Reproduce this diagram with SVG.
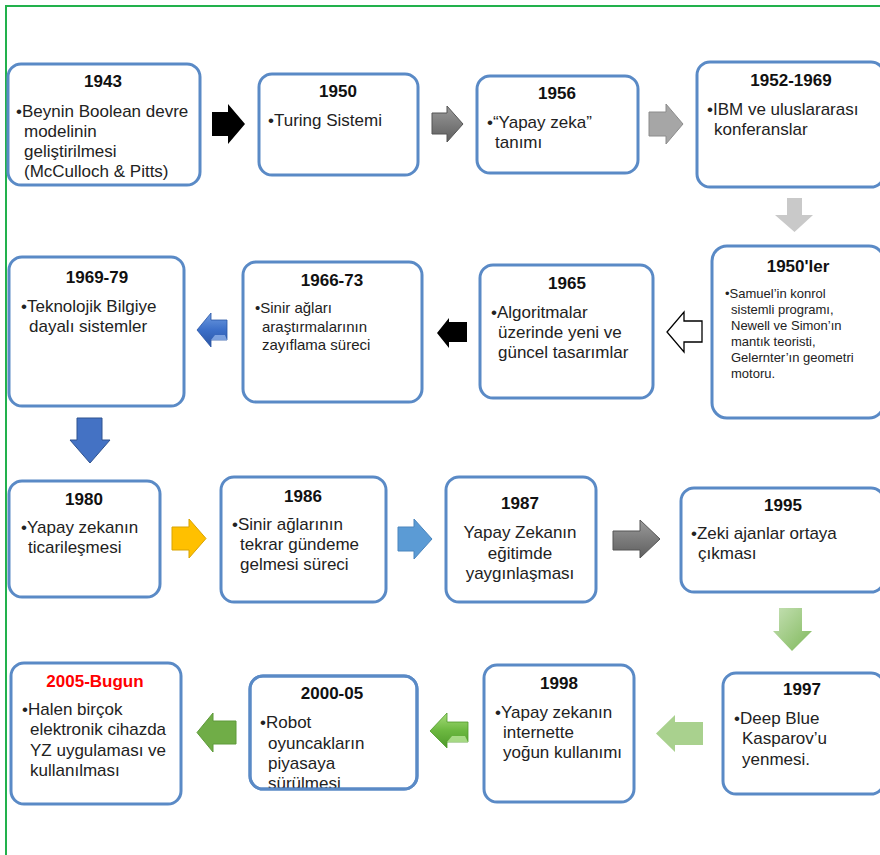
<svg xmlns="http://www.w3.org/2000/svg" width="880" height="855" viewBox="0 0 880 855">
<style>
.box{fill:#fff;stroke:#5a8ac6;stroke-width:3}
.bx{fill:none;stroke:#5a8ac6;stroke-width:3}
.t{font-family:"Liberation Sans",Arial,sans-serif;font-size:17px;fill:#222}
.s{font-size:15px}
.xs{font-size:13px}
.h{font-family:"Liberation Sans",Arial,sans-serif;font-size:17px;font-weight:bold;fill:#111;text-anchor:middle}
.c{text-anchor:middle}
</style>
<defs>
<linearGradient id="gDark" x1="0" y1="0" x2="0" y2="1"><stop offset="0" stop-color="#9a9a9a"/><stop offset="1" stop-color="#5e5e5e"/></linearGradient>
<linearGradient id="gGreen" x1="0" y1="0" x2="1" y2="1"><stop offset="0" stop-color="#c5e0b4"/><stop offset="1" stop-color="#7fb85a"/></linearGradient>
<linearGradient id="gBlue3" x1="0" y1="0" x2="0" y2="1"><stop offset="0" stop-color="#6f9be0"/><stop offset="0.5" stop-color="#3c6fc8"/><stop offset="1" stop-color="#2a55a5"/></linearGradient>
<linearGradient id="gGreen3" x1="0" y1="0" x2="0" y2="1"><stop offset="0" stop-color="#a6dc7a"/><stop offset="0.5" stop-color="#6cb840"/><stop offset="1" stop-color="#4e9a2a"/></linearGradient>
</defs>
<rect width="880" height="855" fill="#fff"/>
<path d="M6,855 V6 H880" fill="none" stroke="#22b14c" stroke-width="2"/>

<g id="connectors">
<path d="M212,112 H228 V104 L245,124 L228,144 V136 H212 Z" fill="#000"/>
<path d="M432,113 H447 V106 L463,124 L447,142 V134 H432 Z" fill="url(#gDark)" stroke="#555" stroke-width="1"/>
<path d="M649,112 H666 V104 L683,124 L666,144 V136 H649 Z" fill="#a6a6a6" stroke="#8c8c8c" stroke-width="1"/>
<path d="M787,198 H802 V215 H813 L794.5,232 L775,215 H787 Z" fill="#c9c9c9"/>
<path d="M702,321 H684 V312 L667,332 L684,352 V342 H702 Z" fill="#fff" stroke="#000" stroke-width="1.3"/>
<path d="M467,322 H449 V318 L437,333 L449,348 V342 H467 Z" fill="#000"/>
<path d="M227,320 H211 V313 L197,330 L211,347 V340 H227 Z" fill="url(#gBlue3)" stroke="#2a55a5" stroke-width="0.8"/>
<path d="M211,340 L215,335 H225 L227,340 Z" fill="#9bbcef" opacity="0.7"/>
<path d="M77,418 H102 V440 H110 L90,463 L70,440 H77 Z" fill="#4472c4" stroke="#2f528f" stroke-width="1"/>
<path d="M172,527 H189 V519 L206,538.5 L189,558 V550 H172 Z" fill="#ffc000" stroke="#d9a300" stroke-width="1"/>
<path d="M398,527 H414 V519 L432,539 L414,559 V551 H398 Z" fill="#5b9bd5" stroke="#4a85bd" stroke-width="1"/>
<path d="M613,531 H640 V520 L660,539 L640,558 V550 H613 Z" fill="url(#gDark)" stroke="#555" stroke-width="1"/>
<path d="M779,608 H802 V631 H812 L792,651 L773,631 H779 Z" fill="url(#gGreen)"/>
<path d="M703,722 H675 V715 L656,733.5 L675,752 V745 H703 Z" fill="#a9d18e"/>
<path d="M468,722 H447 V713 L430,731 L447,748 V742 H468 Z" fill="url(#gGreen3)" stroke="#4e9a2a" stroke-width="0.8"/>
<path d="M447,742 L452,736 H465 L468,742 Z" fill="#c6eea6" opacity="0.7"/>
<path d="M236,721 H213 V713 L197,732.5 L213,752 V744 H236 Z" fill="#70ad47" stroke="#5e9a3a" stroke-width="1"/>
</g>

<g id="n1943">
<rect class="box" x="8" y="64" width="192" height="121" rx="13"/>
<text class="h" x="103" y="87">1943</text>
<text class="t"><tspan x="16" y="117">•Beynin Boolean devre</tspan><tspan x="24" y="137">modelinin</tspan><tspan x="24" y="157">geliştirilmesi</tspan><tspan x="24" y="177">(McCulloch &amp; Pitts)</tspan></text>
</g>
<g id="n1950">
<rect class="box" x="259" y="74" width="159" height="101" rx="13"/>
<text class="h" x="338" y="97">1950</text>
<text class="t"><tspan x="268" y="126">•Turing Sistemi</tspan></text>
</g>
<g id="n1956">
<rect class="box" x="477" y="76" width="161" height="97" rx="13"/>
<text class="h" x="557" y="99">1956</text>
<text class="t"><tspan x="487" y="128">•“Yapay zeka”</tspan><tspan x="495" y="148">tanımı</tspan></text>
</g>
<g id="n1952">
<rect class="box" x="697" y="62" width="187" height="125" rx="13"/>
<text class="h" x="791" y="86">1952-1969</text>
<text class="t"><tspan x="707" y="115">•IBM ve uluslararası</tspan><tspan x="714" y="135">konferanslar</tspan></text>
</g>
<g id="n1950ler">
<rect class="box" x="712" y="246" width="172" height="172" rx="15"/>
<text class="h" x="798" y="272">1950'ler</text>
<text class="t xs"><tspan x="725" y="298">•Samuel’in konrol</tspan><tspan x="731" y="314">sistemli programı,</tspan><tspan x="731" y="330">Newell ve Simon’ın</tspan><tspan x="731" y="346">mantık teoristi,</tspan><tspan x="731" y="362">Gelernter’ın geometri</tspan><tspan x="731" y="378">motoru.</tspan></text>
</g>
<g id="n1965">
<rect class="box" x="480" y="265" width="173" height="133" rx="13"/>
<text class="h" x="567" y="289">1965</text>
<text class="t"><tspan x="491" y="318">•Algoritmalar</tspan><tspan x="498" y="338">üzerinde yeni ve</tspan><tspan x="498" y="358">güncel tasarımlar</tspan></text>
</g>
<g id="n1966">
<rect class="box" x="243" y="262" width="179" height="140" rx="13"/>
<text class="h" x="332" y="286">1966-73</text>
<text class="t s"><tspan x="255" y="313">•Sinir ağları</tspan><tspan x="262" y="332">araştırmalarının</tspan><tspan x="262" y="350">zayıflama süreci</tspan></text>
</g>
<g id="n1969">
<rect class="box" x="9" y="257" width="175" height="149" rx="13"/>
<text class="h" x="97" y="283">1969-79</text>
<text class="t"><tspan x="21" y="312">•Teknolojik Bilgiye</tspan><tspan x="29" y="332">dayalı sistemler</tspan></text>
</g>
<g id="n1980">
<rect class="box" x="9" y="481" width="151" height="116" rx="13"/>
<text class="h" x="84" y="505">1980</text>
<text class="t"><tspan x="21" y="533">•Yapay zekanın</tspan><tspan x="28" y="553">ticarileşmesi</tspan></text>
</g>
<g id="n1986">
<rect class="box" x="221" y="477" width="165" height="125" rx="13"/>
<text class="h" x="303" y="502">1986</text>
<text class="t"><tspan x="232" y="530">•Sinir ağlarının</tspan><tspan x="240" y="550">tekrar gündeme</tspan><tspan x="240" y="570">gelmesi süreci</tspan></text>
</g>
<g id="n1987">
<rect class="box" x="446" y="477" width="150" height="125" rx="13"/>
<text class="h" x="520" y="509">1987</text>
<text class="t c"><tspan x="520" y="538">Yapay Zekanın</tspan><tspan x="520" y="559">eğitimde</tspan><tspan x="520" y="579">yaygınlaşması</tspan></text>
</g>
<g id="n1995">
<rect class="box" x="681" y="488" width="203" height="104" rx="13"/>
<text class="h" x="783" y="511">1995</text>
<text class="t"><tspan x="691" y="539">•Zeki ajanlar ortaya</tspan><tspan x="698" y="559">çıkması</tspan></text>
</g>
<g id="n1997">
<rect class="box" x="723" y="673" width="161" height="121" rx="13"/>
<text class="h" x="802" y="695">1997</text>
<text class="t"><tspan x="734" y="724">•Deep Blue</tspan><tspan x="742" y="744">Kasparov’u</tspan><tspan x="742" y="765">yenmesi.</tspan></text>
</g>
<g id="n1998">
<rect class="box" x="484" y="665" width="150" height="137" rx="13"/>
<text class="h" x="559" y="689">1998</text>
<text class="t"><tspan x="495" y="718">•Yapay zekanın</tspan><tspan x="503" y="738">internette</tspan><tspan x="503" y="758">yoğun kullanımı</tspan></text>
</g>
<g id="n2000">
<rect class="box" x="250" y="676" width="167" height="113" rx="13"/>
<text class="h" x="332" y="699">2000-05</text>
<text class="t"><tspan x="260" y="728">•Robot</tspan><tspan x="268" y="749">oyuncakların</tspan><tspan x="268" y="769">piyasaya</tspan><tspan x="268" y="789">sürülmesi</tspan></text>
<rect class="bx" x="250" y="676" width="167" height="113" rx="13"/>
</g>
<g id="n2005">
<rect class="box" x="11" y="663" width="170" height="141" rx="13"/>
<text class="h" x="95" y="687" fill="#ff0000" style="fill:#ff0000">2005-Bugun</text>
<text class="t"><tspan x="22" y="715">•Halen birçok</tspan><tspan x="30" y="735">elektronik cihazda</tspan><tspan x="30" y="756">YZ uygulaması ve</tspan><tspan x="30" y="776">kullanılması</tspan></text>
</g>
</svg>
